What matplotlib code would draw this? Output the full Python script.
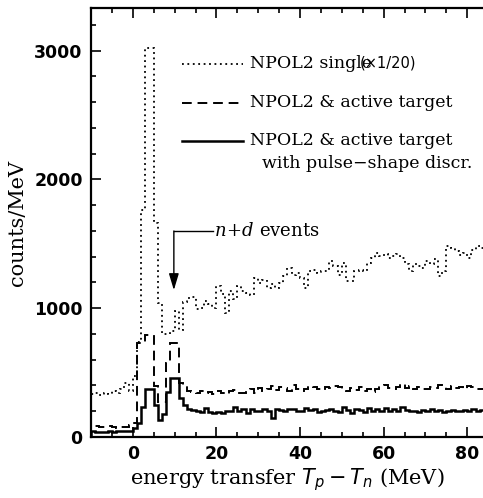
import numpy as np
import matplotlib
matplotlib.use("Agg")
import matplotlib.pyplot as plt
from matplotlib.ticker import MultipleLocator

# ---- data: 1 MeV bins from -10 to 84 MeV ----
bin_edges = np.arange(-10, 85, 1)

# NPOL2 single (already scaled x 1/20)
single = [330, 340, 325, 345, 330, 360, 340, 370, 420, 360,
          470, 740, 1760, 3020, 3020, 1660, 1040, 800, 800, 820,
          980, 830, 1050, 1080, 1090, 990, 1005, 1055, 1030, 1005,
          1170, 1110, 965, 1130, 1070, 1170, 1130, 1120, 1105, 1235,
          1195, 1220, 1160, 1185, 1160, 1195, 1250, 1310, 1260, 1275,
          1235, 1160, 1285, 1300, 1275, 1285, 1290, 1365, 1325, 1260,
          1350, 1210, 1210, 1290, 1300, 1290, 1350, 1390, 1430, 1405,
          1420, 1390, 1405, 1420, 1390, 1340, 1290, 1340, 1330, 1315,
          1365, 1340, 1380, 1250, 1290, 1480, 1470, 1440, 1410, 1430,
          1390, 1450, 1480, 1470]

# NPOL2 & active target
active = [80, 85, 78, 80, 82, 75, 70, 80, 78, 95,
          105, 730, 730, 795, 795, 395, 275, 275, 575, 730,
          730, 420, 395, 360, 350, 345, 355, 340, 350, 330,
          360, 345, 330, 355, 365, 345, 340, 355, 370, 345,
          380, 360, 375, 395, 365, 385, 380, 360, 400, 375,
          360, 370, 395, 385, 370, 365, 390, 380, 395, 385,
          375, 360, 380, 365, 385, 355, 375, 350, 370, 395,
          400, 380, 375, 390, 410, 380, 395, 370, 385, 375,
          370, 385, 380, 400, 385, 370, 395, 380, 390, 375,
          395, 385, 375, 370]

# NPOL2 & active target with pulse-shape discrimination
psd = [45, 40, 35, 38, 45, 42, 48, 45, 50, 50,
       70, 110, 230, 370, 370, 250, 135, 180, 350, 460,
       460, 300, 250, 220, 210, 200, 195, 225, 195, 190,
       195, 185, 200, 205, 230, 200, 215, 190, 220, 200,
       205, 215, 200, 150, 220, 210, 205, 215, 220, 200,
       205, 225, 210, 215, 195, 205, 210, 215, 200, 195,
       230, 210, 190, 215, 210, 195, 225, 205, 220, 200,
       225, 200, 220, 205, 230, 210, 200, 205, 195, 210,
       200, 215, 205, 210, 195, 205, 210, 200, 205, 210,
       200, 215, 205, 210]

# ---- figure ----
fig = plt.figure(figsize=(4.83, 4.98), dpi=100)
ax = fig.add_axes([91 / 483, 1 - 437 / 498, 1 - 91 / 483 + 0.002, (437 - 8) / 498])

ax.stairs(single, bin_edges, color="k", lw=1.3, linestyle=(0, (1, 2)))
ax.stairs(active, bin_edges, color="k", lw=1.4, linestyle=(0, (5, 3)))
ax.stairs(psd, bin_edges, color="k", lw=1.8, linestyle="-")

ax.set_xlim(-10, 84)
ax.set_ylim(0, 3330)

ax.xaxis.set_major_locator(MultipleLocator(20))
ax.xaxis.set_minor_locator(MultipleLocator(5))
ax.yaxis.set_major_locator(MultipleLocator(1000))
ax.yaxis.set_minor_locator(MultipleLocator(200))
ax.tick_params(which="both", direction="in", top=True, right=False, width=1.2)
ax.tick_params(which="major", length=7, labelsize=12.5, pad=6)
ax.tick_params(which="minor", length=3.5)
for lab in ax.get_xticklabels() + ax.get_yticklabels():
    lab.set_fontweight("bold")
for s in ["left", "bottom", "top"]:
    ax.spines[s].set_linewidth(1.6)
ax.spines["right"].set_visible(False)

plt.rcParams["mathtext.fontset"] = "dejavuserif"
ax.set_xlabel(r"energy transfer $T_p - T_n$ (MeV)", family="DejaVu Serif",
              fontsize=15, labelpad=2)
ax.set_ylabel("counts/MeV", family="DejaVu Serif", fontsize=15, labelpad=5)

# ---- legend drawn by hand ----
def px(x, y):
    # figure pixel -> data coords
    return ((x - 133) / 4.175, (435.5 - y) / 0.1285)

leg = [((0, (1, 2)), 1.3, 63, "NPOL2 single"),
       ((0, (5, 3)), 1.4, 102, "NPOL2 & active target"),
       ("-", 1.8, 140, "NPOL2 & active target")]
for ls, lw, y, txt in leg:
    x0, yy = px(182, y)
    x1, _ = px(243, y)
    ax.plot([x0, x1], [yy, yy], color="k", lw=lw, linestyle=ls)
    tx, _ = px(250, y)
    ax.text(tx, yy, txt, family="DejaVu Serif", fontsize=12.5, va="center", ha="left")
tx, ty = px(472, 163)
ax.text(tx, ty, "with pulse\u2212shape discr.", family="DejaVu Serif", fontsize=12.5,
        va="center", ha="right")
tx, ty = px(360, 62)
ax.text(tx, ty, "(\u00d71/20)", family="DejaVu Sans", fontsize=10.5, va="center", ha="left")

# ---- n+d events annotation ----
xa, ya = px(174, 230)
xt, _ = px(214, 230)
_, ytip = px(174, 289)
ax.plot([xa, xt - 0.3], [ya, ya], color="k", lw=1.0)
ax.annotate("", xy=(xa, ytip), xytext=(xa, ya),
            arrowprops=dict(arrowstyle="-|>,head_width=0.3,head_length=1.0",
                            color="k", lw=1.0, shrinkA=0, shrinkB=0))
ax.text(xt, ya, r"$n\!+\!d$ events", family="DejaVu Serif", fontsize=13,
        va="center", ha="left")

fig.savefig("out.png", dpi=100)
